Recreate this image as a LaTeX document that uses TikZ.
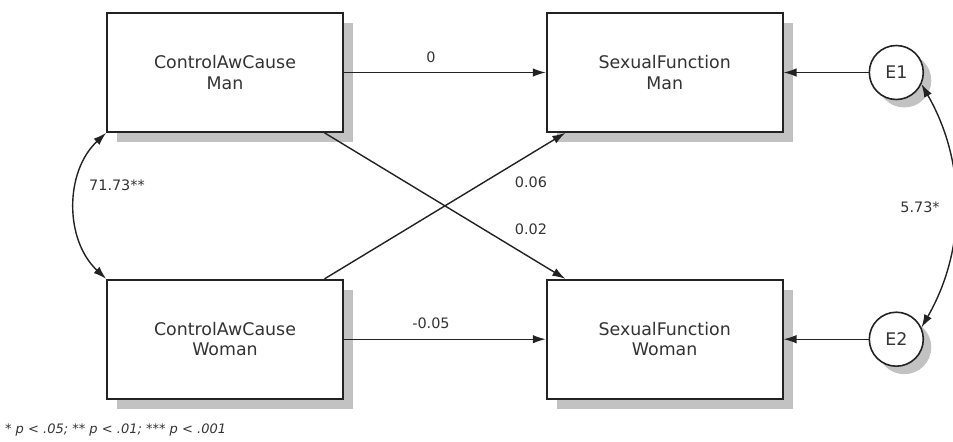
\documentclass[tikz,border=0pt]{standalone}
\usepackage{fontspec}
\setmainfont{DejaVu Sans}
\usetikzlibrary{arrows.meta,positioning,shadows}
\definecolor{semLine}{RGB}{34,34,34}
\definecolor{semText}{RGB}{51,51,51}
\definecolor{semShadow}{RGB}{194,194,194}

\begin{document}
\begin{tikzpicture}[
	x=0.02cm, y=0.02cm,
	obs/.style={
		draw=semLine, fill=white, line width=1pt, text=semText,
		minimum width=4.72cm, minimum height=2.38cm, align=center,
		font=\fontsize{9.9}{11.4}\selectfont,
		drop shadow={shadow xshift=0.2cm, shadow yshift=-0.2cm, fill=semShadow, opacity=1}
	},
	err/.style={
		circle, draw=semLine, fill=white, line width=0.9pt, text=semText,
		minimum size=1.08cm, inner sep=0pt, font=\fontsize{9.9}{11.4}\selectfont,
		drop shadow={shadow xshift=0.16cm, shadow yshift=-0.16cm, fill=semShadow, opacity=1}
	},
	reg/.style={draw=semLine, line width=0.8pt, -{Latex[length=2.6mm,width=1.7mm]}},
	cov/.style={draw=semLine, line width=0.8pt,
		{Latex[length=2.6mm,width=1.7mm]}-{Latex[length=2.6mm,width=1.7mm]}},
	coef/.style={text=semText, font=\fontsize{8.2}{10}\selectfont, inner sep=1pt}
	]
	\useasboundingbox (0,0) rectangle (953,441);

	\node[obs] (cm) at (225,368.5) {ControlAwCause\\Man};
	\node[obs,right=4.04cm of cm] (sfm) {SexualFunction\\Man};
	\node[obs,below=2.92cm of cm] (cw) {ControlAwCause\\Woman};
	\node[obs,right=4.04cm of cw] (sfw) {SexualFunction\\Woman};
	\node[err,right=1.7cm of sfm] (e1) {E1};
	\node[err,right=1.7cm of sfw] (e2) {E2};

	\foreach \a/\b in {cm/sfm,cw/sfw,cm/sfw,cw/sfm,e1/sfm,e2/sfw}
	\draw[reg] (\a) -- (\b);

	% covariances
	\draw[cov] (cm.south west) to[bend right=47] (cw.north west);
	\draw[cov] (e1.-25) to[out=-60,in=60,looseness=0.95] (e2.25);

	\node[coef] (b1) at (431,384) {0};
	\node[coef] (b2) at (431,118) {-0.05};
	\node[coef] (b3) at (531,259) {0.06};
	\node[coef] (b4) at (531,212) {0.02};
	\node[coef] (c1) at (117,256) {71.73**};
	\node[coef] (c2) at (920,234) {5.73*};

	\node[coef,anchor=west,font=\fontsize{7.4}{9}\selectfont\itshape] (note) at (3,11)
		{* p < .05; ** p < .01; *** p < .001};
\end{tikzpicture}
\end{document}
